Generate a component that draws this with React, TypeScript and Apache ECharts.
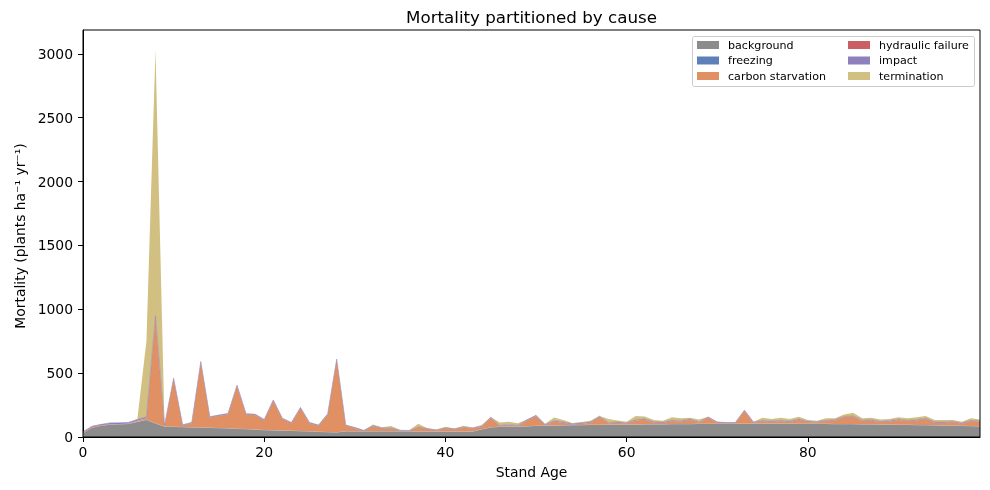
import React, { useEffect, useRef } from "react";
import * as echarts from "echarts";

// Stand age categories 0..99
const ages = Array.from({ length: 100 }, (_, i) => String(i));
const background = [30,72,88,95,98,102,118,133,105,80,79,76,74,72,70,68,66,63,60,56,53,51,49,47,45,43,40,38,36,44,44,44,44,44,44,43,43,42,42,42,42,42,42,42,58,75,78,80,81,83,86,88,89,90,91,92,93,94,95,95,96,96,97,97,98,99,100,100,101,101,102,102,102,103,103,103,103,103,103,102,102,101,101,100,100,99,98,97,96,95,94,93,92,91,90,89,88,86,84,82];
const freezing = [1,1,1,1,1,1,2,2,3,2,2,2,2,2,2,2,2,2,2,2,2,2,2,2,2,2,2,2,2,2,2,2,2,2,2,2,2,2,2,2,2,2,2,2,2,2,2,2,2,2,2,2,2,2,2,2,2,2,2,2,2,2,2,2,2,2,2,2,2,2,2,2,2,2,2,2,2,2,2,2,2,2,2,2,2,2,2,2,2,2,2,2,2,2,2,2,2,2,2,2];
const carbonStarvation = [1,2,1,1,1,1,5,10,812,6,374,12,29,511,80,96,110,335,114,114,77,231,91,59,179,63,46,136,567,42,24,3,38,20,22,5,3,30,18,8,22,16,28,22,20,73,6,8,3,45,77,2,31,20,5,10,17,62,10,15,7,32,37,15,10,25,20,33,9,49,8,4,4,100,7,20,13,20,13,31,14,11,22,28,54,59,25,31,19,25,38,30,36,49,20,21,27,16,39,33];
const hydraulicFailure = [6,5,3,1,1,1,2,3,20,0,0,0,0,0,0,0,0,0,0,0,0,0,0,0,0,0,0,0,0,0,0,0,0,0,0,0,0,0,0,0,0,0,0,0,0,0,0,0,0,0,0,0,0,0,0,0,0,0,0,0,0,0,0,0,0,0,0,0,0,0,0,0,0,0,0,0,0,0,0,0,0,0,0,0,0,0,0,0,0,0,0,0,0,0,0,0,0,0,0,0];
const impact = [3,4,6,12,10,9,10,10,10,5,6,5,5,6,6,6,6,6,6,6,5,5,5,5,5,5,5,5,5,5,4,3,4,4,4,3,3,4,4,3,4,4,4,4,4,5,5,5,5,5,5,5,5,5,5,5,5,5,5,5,5,5,5,5,5,5,5,5,5,5,5,5,5,5,5,5,5,5,5,5,5,5,5,5,5,5,5,5,5,5,5,5,5,5,5,5,5,5,5,5];
const termination = [1,2,1,2,1,1,3,592,2080,1,1,3,10,1,2,2,2,2,2,2,2,2,2,2,2,2,2,2,2,2,2,1,9,6,15,2,2,26,2,3,10,2,13,5,10,2,22,25,16,3,1,7,25,16,7,9,11,1,28,13,10,29,19,14,13,23,19,11,21,2,3,2,2,2,3,21,18,21,18,19,10,9,16,11,16,25,16,16,16,14,15,16,19,17,16,16,11,11,16,16];

const seriesNames = ["background", "freezing", "carbon starvation", "hydraulic failure", "impact", "termination"];
const seriesValues = [background, freezing, carbonStarvation, hydraulicFailure, impact, termination];
const seriesColors = ["#8c8c8c", "#5e80b8", "#e09063", "#ca6063", "#8e80bb", "#d1c082"];
const edgeWidths = [0, 0, 0, 0, 0.5, 0];

const yTicks = [0, 500, 1000, 1500, 2000, 2500, 3000];

const FONT = "DejaVu Sans";

export default function App() {
  const ref = useRef<HTMLDivElement>(null);
  useEffect(() => {
    if (!ref.current) return;
    const chart = echarts.init(ref.current, null, { renderer: "svg" });
    const series = seriesNames.map((name, k) => ({
      name,
      type: "line",
      stack: "total",
      symbol: "none",
      showSymbol: false,
      z: 2,
      lineStyle: { width: edgeWidths[k], color: seriesColors[k] },
      areaStyle: { color: seriesColors[k], opacity: 1 },
      itemStyle: { color: seriesColors[k] },
      data: seriesValues[k],
    }));
    const legendCommon = {
      orient: "vertical",
      icon: "rect",
      itemWidth: 22,
      itemHeight: 8,
      itemGap: 4.5,
      padding: 0,
      z: 10,
      textStyle: { fontFamily: FONT, fontSize: 11.1, color: "#000", lineHeight: 11, padding: [0, 0, 0, 4] },
    };
    chart.setOption({
      animation: false,
      color: seriesColors,
      grid: { left: 83, right: 10, top: 30, bottom: 53, show: false },
      legend: [
        { ...legendCommon, left: 697, top: 39.5, data: ["background", "freezing", "carbon starvation"] },
        { ...legendCommon, left: 848, top: 39.5, data: ["hydraulic failure", "impact", "termination"] },
      ],
      xAxis: {
        type: "category",
        data: ages,
        boundaryGap: false,
        splitLine: { show: false },
        axisLine: { show: true, onZero: false, lineStyle: { color: "#000", width: 1 } },
        axisTick: { show: true, length: 5, interval: 19, lineStyle: { color: "#000" } },
        axisLabel: { fontFamily: FONT, fontSize: 13.9, color: "#000", margin: 8, interval: 19 },
      },
      yAxis: {
        type: "value",
        min: 0,
        max: 3187,
        interval: 500,
        splitLine: { show: false },
        axisLine: { show: true, lineStyle: { color: "#000", width: 1 } },
        axisTick: { show: true, length: 5, lineStyle: { color: "#000" }, customValues: yTicks },
        axisLabel: {
          fontFamily: FONT,
          fontSize: 13.9,
          color: "#000",
          margin: 10,
          customValues: yTicks,
          formatter: (v: number) => String(v),
        },
      },
      series,
      graphic: [
        {
          type: "rect",
          z: 100,
          shape: { x: 0, y: 0, width: 897, height: 407 },
          x: 83,
          y: 30,
          style: { fill: "none", stroke: "#000", lineWidth: 1 },
          silent: true,
        },
        {
          type: "rect",
          z: 3,
          shape: { x: 692.5, y: 36.5, width: 282, height: 50, r: 2 },
          style: { fill: "rgba(255,255,255,0.8)", stroke: "#cccccc", lineWidth: 1 },
          silent: true,
        },
        {
          type: "text",
          x: 531.5,
          y: 17,
          style: { text: "Mortality partitioned by cause", fontFamily: FONT, fontSize: 16.7, fill: "#000", textAlign: "center", textVerticalAlign: "middle" },
        },
        {
          type: "text",
          x: 531.5,
          y: 472,
          style: { text: "Stand Age", fontFamily: FONT, fontSize: 13.9, fill: "#000", textAlign: "center", textVerticalAlign: "middle" },
        },
        {
          type: "text",
          x: 20,
          y: 236,
          rotation: Math.PI / 2,
          style: { text: "Mortality (plants ha\u207b\u00b9 yr\u207b\u00b9)", fontFamily: FONT, fontSize: 13.9, fill: "#000", textAlign: "center", textVerticalAlign: "middle" },
        },
      ],
    });
    return () => chart.dispose();
  }, []);
  return <div ref={ref} style={{ position: "fixed", left: 0, top: 0, width: 990, height: 490 }} />;
}
